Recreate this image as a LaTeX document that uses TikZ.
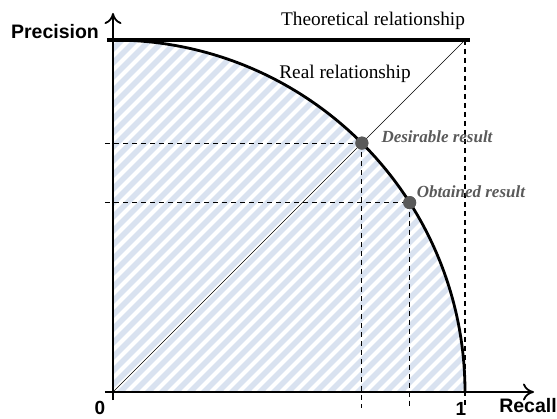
\documentclass[tikz,border=0pt]{standalone}
\usepackage{fontspec}
\setmainfont{Liberation Serif}
\setsansfont{Liberation Sans}
\usetikzlibrary{arrows.meta}
\definecolor{hatchblue}{HTML}{D9E2F0}
\definecolor{dotgray}{HTML}{5A5A5A}
\tikzset{
  axis/.style={line width=2.6pt,-{To[length=11pt,width=17pt,line width=1.8pt]}},
  thickline/.style={line width=2.8pt},
  dashline/.style={line width=1.1pt,dash pattern=on 5pt off 4pt},
  dot/.style={circle,fill=dotgray,inner sep=0pt,minimum size=13pt},
  axlabel/.style={font=\sffamily\bfseries\fontsize{19.5}{19.5}\selectfont},
  ticklabel/.style={font=\sffamily\bfseries\fontsize{19}{19}\selectfont,inner sep=0pt,anchor=north},
  rellabel/.style={font=\fontsize{19.3}{19.3}\selectfont},
  reslabel/.style={font=\bfseries\itshape\fontsize{17}{17}\selectfont,text=dotgray}
}
\begin{document}
\begin{tikzpicture}[x=1pt,y=1pt]
\useasboundingbox (-113,-26) rectangle (444,392);
% hatched quarter disc
\begin{scope}
  \clip (0,0) -- (0,352) arc (90:0:352) -- cycle;
  \fill[hatchblue] (0,0) rectangle (352,352);
  \foreach \k in {-364,-350,...,364}{
    \draw[white,line width=4pt] (\k,0) -- (\k+400,400);
  }
\end{scope}
% coordinates
\coordinate (O) at (0,0);
\coordinate (T) at (352,352);
\coordinate (Ttop) at (-6,352);
\coordinate (Tarc) at (0,352);
\coordinate (Tend) at (357,352);
\coordinate (Xend) at (421,0);
\coordinate (Yend) at (0,379);
\coordinate (Xstart) at (-8,0);
\coordinate (Ystart) at (0,-8);
\node[dot] (D) at (45:352) {};
\node[dot] (B) at (32.55:352) {};
\coordinate (Dl) at (-8,0 |- D);
\coordinate (Dd) at (D |- 0,-16);
\coordinate (Bl) at (-8,0 |- B);
\coordinate (Bd) at (B |- 0,-16);
\coordinate (Td) at (352,-16);
% dashed guides
\draw[dashline] (Dl) -- (D.center);
\draw[dashline] (D.center) -- (Dd);
\draw[dashline] (Bl) -- (B.center);
\draw[dashline] (B.center) -- (Bd);
\draw[dashline] (T) -- (Td);
% diagonal
\draw[line width=0.7pt] (O) -- (T);
% theoretical
\draw[line width=3.2pt] (Ttop) -- (Tend);
% real curve
\draw[thickline] (Tarc) arc (90:0:352);
% axes
\draw[axis] (Xstart) -- (Xend);
\draw[axis] (Ystart) -- (Yend);
% dots on top
\node[dot] at (D) {};
\node[dot] at (B) {};
% labels
\node[axlabel] (lp) at (-58,360) {Precision};
\node[axlabel] (lr) at (415,-14) {Recall};
\node[ticklabel] (l0) at (-13,-9) {0};
\node[ticklabel] (l1) at (348,-10) {1};
\node[rellabel] (lt) at (260,371) {Theoretical relationship};
\node[rellabel] (lre) at (232,318) {Real relationship};
\node[reslabel] (ld) at (324,255) {Desirable result};
\node[reslabel] (lo) at (358,200) {Obtained result};
\end{tikzpicture}
\end{document}
